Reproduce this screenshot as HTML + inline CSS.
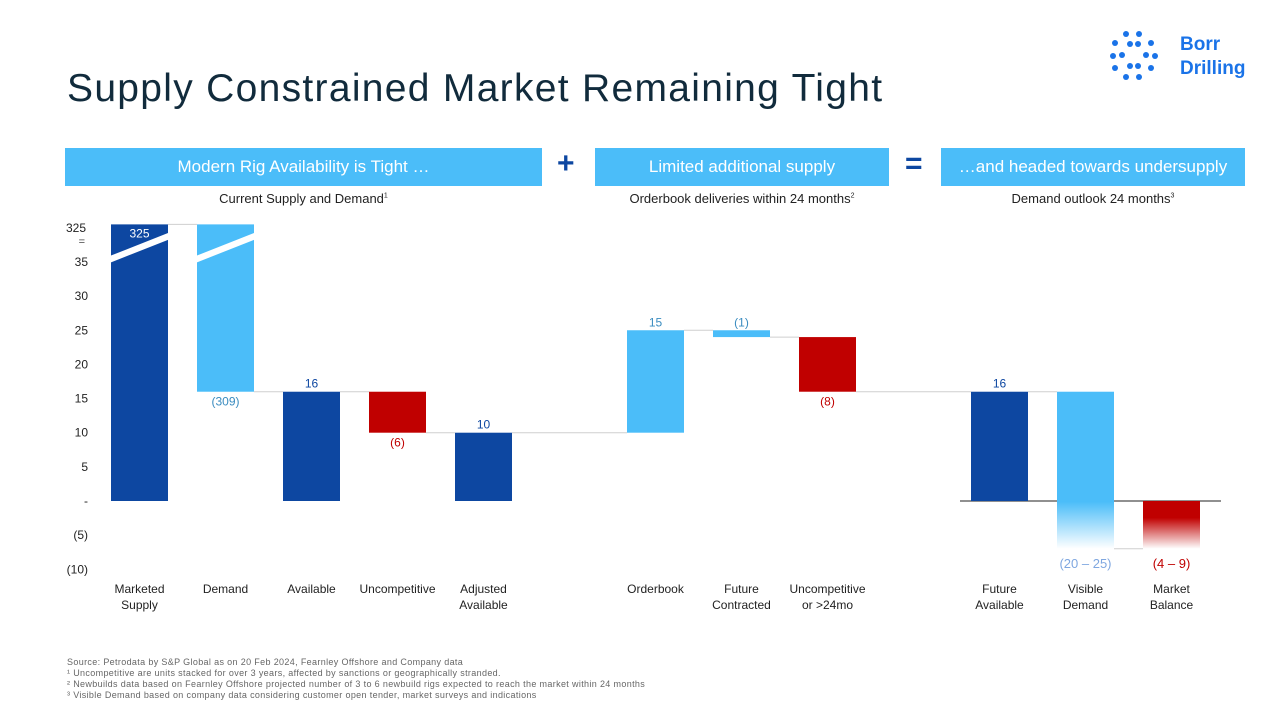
<!DOCTYPE html>
<html><head><meta charset="utf-8"><style>
body{margin:0;width:1280px;height:720px;background:#fff;font-family:"Liberation Sans",sans-serif;overflow:hidden;position:relative}
.hdr{position:absolute;top:148px;height:38px;background:#4bbdf9;color:#fff;font-size:17px;line-height:38px;text-align:center}
.sub{position:absolute;top:191px;font-size:13px;color:#222;text-align:center}
.op{position:absolute;color:#0d47a1;font-weight:bold;font-size:30px;top:147px}
.fn{position:absolute;left:67px;font-size:9px;letter-spacing:0.35px;color:#666}
</style></head><body>
<div style="position:absolute;left:67px;top:67px;font-size:39px;letter-spacing:1.3px;color:#112b3c">Supply Constrained Market Remaining Tight</div>
<svg style="position:absolute;left:1108px;top:28px" width="60" height="56"><g fill="#1a73e8">
<circle cx="18" cy="6" r="3"/><circle cx="31" cy="6" r="3"/><circle cx="7" cy="15" r="3"/><circle cx="43" cy="15" r="3"/><circle cx="22" cy="16" r="3"/><circle cx="30" cy="16" r="3"/><circle cx="5" cy="28" r="3"/><circle cx="14" cy="27" r="3"/><circle cx="38" cy="27" r="3"/><circle cx="47" cy="28" r="3"/><circle cx="7" cy="40" r="3"/><circle cx="43" cy="40" r="3"/><circle cx="22" cy="38" r="3"/><circle cx="30" cy="38" r="3"/><circle cx="18" cy="49" r="3"/><circle cx="31" cy="49" r="3"/></g></svg>
<div style="position:absolute;left:1180px;top:33px;font-size:19px;font-weight:bold;color:#1a73e8;line-height:24px">Borr<br>Drilling</div>
<div class="hdr" style="left:65px;width:477px">Modern Rig Availability is Tight …</div>
<div class="op" style="left:557px">+</div>
<div class="hdr" style="left:595px;width:294px">Limited additional supply</div>
<div class="op" style="left:905px">=</div>
<div class="hdr" style="left:941px;width:304px">…and headed towards undersupply</div>
<div class="sub" style="left:65px;width:477px">Current Supply and Demand<sup style="font-size:7px">1</sup></div>
<div class="sub" style="left:595px;width:294px">Orderbook deliveries within 24 months<sup style="font-size:7px">2</sup></div>
<div class="sub" style="left:941px;width:304px">Demand outlook 24 months<sup style="font-size:7px">3</sup></div>
<svg id="chart" width="1280" height="720" style="position:absolute;left:0;top:0">
<defs>
<linearGradient id="gb" x1="0" y1="0" x2="0" y2="1"><stop offset="0.7" stop-color="#4bbdf9"/><stop offset="1" stop-color="#fff"/></linearGradient>
<linearGradient id="gr" x1="0" y1="0" x2="0" y2="1"><stop offset="0.35" stop-color="#c00000"/><stop offset="1" stop-color="#fff"/></linearGradient>
</defs></svg>
<div class="fn" style="top:657px">Source: Petrodata by S&amp;P Global as on 20 Feb 2024, Fearnley Offshore and Company data</div>
<div class="fn" style="top:668px">¹ Uncompetitive are units stacked for over 3 years, affected by sanctions or geographically stranded.</div>
<div class="fn" style="top:679px">² Newbuilds data based on Fearnley Offshore projected number of 3 to 6 newbuild rigs expected to reach the market within 24 months</div>
<div class="fn" style="top:690px">³ Visible Demand based on company data considering customer open tender, market surveys and indications</div>
<script>
const categories=["Marketed\nSupply","Demand","Available","Uncompetitive","Adjusted\nAvailable","Orderbook","Future\nContracted","Uncompetitive\nor >24mo","Future\nAvailable","Visible\nDemand","Market\nBalance"];
const slots=[0,1,2,3,4,6,7,8,10,11,12];
const barStart=[0,40.5,0,16,0,10,25,24,0,16,0];
const barEnd=[40.5,16,16,10,10,25,24,16,16,-7,-7];
const labels=["325","(309)","16","(6)","10","15","(1)","(8)","16","(20 – 25)","(4 – 9)"];
const kinds=["total","dec","total","neg","total","inc","inc","neg","total","fadeb","fader"];
const ticks=[35,30,25,20,15,10,5,0,-5,-10];
const tickLabels=["35","30","25","20","15","10","5","-","(5)","(10)"];
const NS="http://www.w3.org/2000/svg";
const svg=document.getElementById('chart');
const y=v=>501-v*6.83;
const xc=s=>139.5+86*s;
const bw=57;
function el(t,a){const e=document.createElementNS(NS,t);for(const k in a)e.setAttribute(k,a[k]);svg.appendChild(e);return e;}
ticks.forEach((t,i)=>{const e=el('text',{x:88,y:y(t)+4,'text-anchor':'end','font-size':12,fill:'#222'});e.textContent=tickLabels[i];

});
let e=el('text',{x:86,y:232,'text-anchor':'end','font-size':12,fill:'#222'});e.textContent="325";
e=el('text',{x:85,y:245,'text-anchor':'end','font-size':11,fill:'#444'});e.textContent="=";
const colors={total:'#0d47a1',dec:'#4bbdf9',inc:'#4bbdf9',neg:'#c00000',fadeb:'url(#gb)',fader:'url(#gr)'};
const lblCol={total:'#0d47a1',dec:'#3a8cc0',inc:'#3a8cc0',neg:'#c00000',fadeb:'#7fa7e0',fader:'#c00000'};
for(let i=0;i<categories.length-1;i++){
 const v=barEnd[i];
 const c=el('line',{x1:xc(slots[i])+bw/2,x2:xc(slots[i+1])-bw/2,y1:y(v),y2:y(v),stroke:'#cfcfcf','stroke-width':1});
 
 
}
const ax=el('line',{x1:960,x2:1221,y1:y(0),y2:y(0),stroke:'#222','stroke-width':1});


categories.forEach((c,i)=>{
 const a=barStart[i],b=barEnd[i];const top=y(Math.max(a,b)),bot=y(Math.min(a,b));
 const x=xc(slots[i])-bw/2;
 const r=el('rect',{x:x,y:top,width:bw,height:bot-top,fill:colors[kinds[i]]});
 
 
 if(i<2){el('polygon',{points:`${x},${y(35.5)} ${x+bw},${y(38.8)} ${x+bw},${y(37.8)+0} ${x},${y(34.5)}`,fill:'#fff',transform:'translate(0,-3)'});}
 let ly,lc=lblCol[kinds[i]];
 if(i==0){ly=top+13;lc='#fff';}
 else if(kinds[i]=='neg'||kinds[i]=='dec'||kinds[i].startsWith('fade'))ly=bot+14;
 else ly=top-4;
 if(kinds[i].startsWith('fade'))ly=bot+19;
 const t=el('text',{x:xc(slots[i]),y:ly,'text-anchor':'middle','font-size':kinds[i].startsWith('fade')?13:12,fill:lc});t.textContent=labels[i];
 
 
 c.split('\n').forEach((ln,j)=>{const tt=el('text',{x:xc(slots[i]),y:593+j*16,'text-anchor':'middle','font-size':12,fill:'#222'});tt.textContent=ln;
 
 });
});
</script>
</body></html>
